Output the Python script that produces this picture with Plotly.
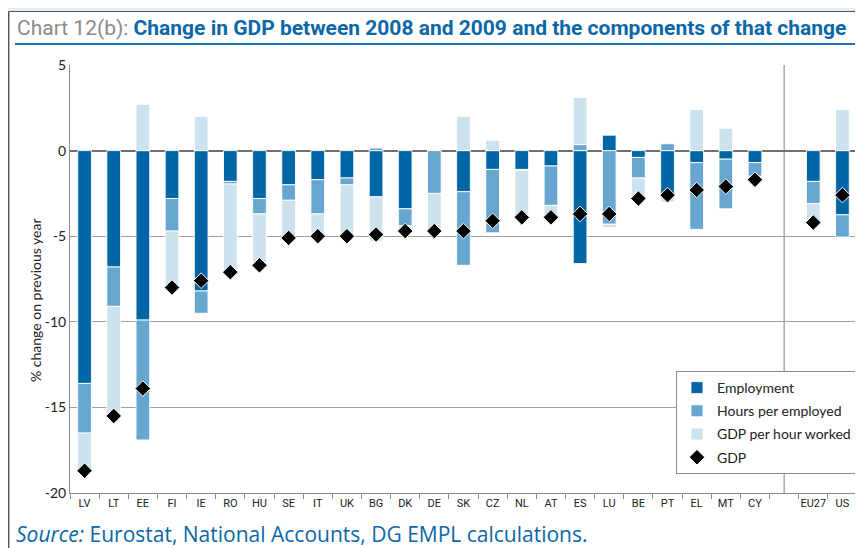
import plotly.graph_objects as go

countries = ["LV", "LT", "EE", "FI", "IE", "RO", "HU", "SE", "IT", "UK", "BG", "DK",
             "DE", "SK", "CZ", "NL", "AT", "ES", "LU", "BE", "PT", "EL", "MT", "CY",
             " ", "EU27", "US"]
employment = [-13.6, -6.8, -9.9, -2.8, -8.2, -1.8, -2.8, -2.0, -1.7, -1.6, -2.7, -3.4,
              0.0, -2.4, -1.1, -1.1, -0.9, -6.6, 0.9, -0.4, -2.6, -0.7, -0.5, -0.7,
              None, -1.8, -3.75]
hours_per_employed = [-2.9, -2.3, -7.0, -1.9, -1.3, -0.15, -0.9, -0.9, -2.0, -0.4, 0.15, -1.0,
                      -2.5, -4.3, -3.7, -0.05, -2.3, 0.35, -4.3, -1.2, 0.4, -3.9, -2.9, -0.8,
                      None, -1.3, -1.3]
gdp_per_hour = [-2.2, -6.4, 2.7, -3.3, 2.0, -5.3, -3.1, -2.2, -1.4, -3.1, -2.6, -0.35,
                -2.2, 2.0, 0.6, -2.7, -0.7, 2.75, -0.2, -1.1, -0.4, 2.4, 1.3, -0.1,
                None, -1.05, 2.4]
gdp = [-18.7, -15.5, -13.9, -8.0, -7.6, -7.1, -6.7, -5.1, -5.0, -5.0, -4.9, -4.7,
       -4.7, -4.7, -4.1, -3.9, -3.9, -3.7, -3.7, -2.8, -2.6, -2.3, -2.1, -1.7,
       None, -4.2, -2.6]
y_ticks = [5, 0, -5, -10, -15, -20]

# the page puts the figure 8px in from the top-left corner
OFF = 8
W, H = 855, 540
ML, MR, MT, MB = 62, 6, 57, 55
PW, PH = W - ML - MR, H - MT - MB


# helpers take page pixel positions
def px_x(px):
    return (px - OFF - ML) / PW


def px_y(py):
    return (H - MB - (py - OFF)) / PH


BLUE = "#0a67a8"
fig = go.Figure()

bar_specs = [
    ("Employment", employment, "#0066a6"),
    ("Hours per employed", hours_per_employed, "#66a6cf"),
    ("GDP per hour worked", gdp_per_hour, "#cde2ef"),
]
for name, vals, colour in bar_specs:
    fig.add_trace(go.Bar(
        x=countries, y=vals, name=name, width=0.47,
        marker={"color": colour, "line": {"color": "rgba(255,255,255,0.9)", "width": 1}},
        legendgroup=name,
    ))

fig.add_trace(go.Scatter(
    x=countries, y=gdp, name="GDP", mode="markers",
    marker={"symbol": "diamond", "size": 12, "color": "black",
            "line": {"color": "white", "width": 1}},
    legendgroup="GDP",
))

# separator between the member states and the aggregates
sep = countries.index(" ")
fig.add_shape(type="line", xref="x", yref="y", x0=sep, x1=sep, y0=-20, y1=5,
              line={"color": "#7f7f7f", "width": 1}, layer="below")

# page furniture: light blue strip, dark panel border, title underline
fig.add_shape(type="rect", xref="paper", yref="paper", x0=px_x(0), x1=px_x(W + OFF), y0=px_y(0), y1=px_y(11),
              fillcolor="#e4eef6", line={"width": 0}, layer="below")
fig.add_shape(type="line", xref="paper", yref="paper", x0=px_x(8.5), x1=px_x(W + OFF), y0=px_y(11.5), y1=px_y(11.5),
              line={"color": "#555555", "width": 1})
fig.add_shape(type="line", xref="paper", yref="paper", x0=px_x(8.7), x1=px_x(8.7), y0=px_y(11.5), y1=px_y(H + OFF),
              line={"color": "#555555", "width": 1.5})
fig.add_shape(type="line", xref="paper", yref="paper", x0=px_x(15), x1=px_x(W + OFF), y0=px_y(44), y1=px_y(44),
              line={"color": "#1a6fb0", "width": 2})

fig.add_annotation(
    xref="paper", yref="paper", x=px_x(15), y=px_y(28), xanchor="left", yanchor="middle",
    text="<span style='color:#8a8a8a'>Chart 12(b):</span> <b>Change in GDP between 2008 and 2009 and the components of that change</b>",
    showarrow=False, font={"family": "Roboto, sans-serif", "size": 21, "color": BLUE},
)
fig.add_annotation(
    xref="paper", yref="paper", x=px_x(14), y=px_y(534), xanchor="left", yanchor="middle",
    text="<i>Source:</i> Eurostat, National Accounts, DG EMPL calculations.",
    showarrow=False, font={"family": "Open Sans, sans-serif", "size": 21, "color": BLUE},
)
fig.add_annotation(
    xref="paper", yref="paper", x=px_x(35), y=px_y(300), xanchor="center", yanchor="middle",
    text="% change on previous year", textangle=-90,
    showarrow=False, font={"family": "Lato, sans-serif", "size": 14, "color": "#222222"},
)

fig.update_layout(
    width=W, height=H,
    margin={"l": ML, "r": MR, "t": MT, "b": MB},
    barmode="relative",
    paper_bgcolor="white",
    plot_bgcolor="white",
    font={"family": "Lato, sans-serif", "color": "#222222"},
    showlegend=True,
    legend={
        "x": 1, "xanchor": "right", "y": px_y(371), "yanchor": "top",
        "bgcolor": "white", "bordercolor": "#8c8c8c", "borderwidth": 1,
        "font": {"family": "Lato, sans-serif", "size": 14, "color": "#222222"},
        "traceorder": "grouped", "tracegroupgap": 2,
    },
)
fig.update_xaxes(
    type="category", categoryorder="array", categoryarray=countries,
    range=[-0.5, len(countries) - 0.5],
    showline=True, linecolor="#8c8c8c", linewidth=1,
    ticks="outside", tickson="boundaries", ticklen=5, tickcolor="#8c8c8c",
    tickangle=0,
    tickfont={"family": "Roboto, sans-serif", "size": 11, "color": "#222222"},
    showgrid=False,
)
fig.update_yaxes(
    range=[-20, 5], tickvals=y_ticks, ticktext=[str(v) for v in y_ticks],
    showline=True, linecolor="#8c8c8c", linewidth=1,
    showgrid=True, gridcolor="#a0a0a0", gridwidth=1,
    zeroline=True, zerolinecolor="#707070", zerolinewidth=1.5,
    tickfont={"family": "Lato, sans-serif", "size": 14, "color": "#222222"},
)

fig.write_html("out.html")
